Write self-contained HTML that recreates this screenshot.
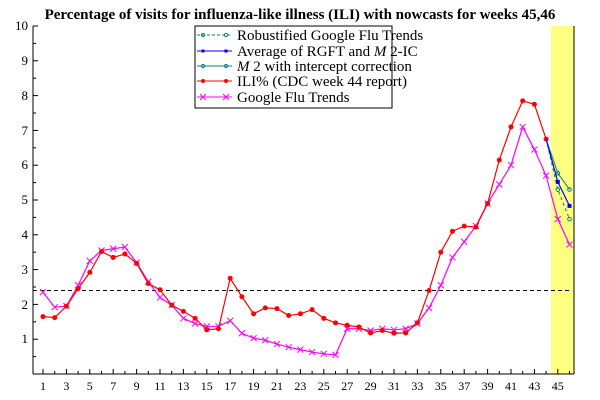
<!DOCTYPE html>
<html><head><meta charset="utf-8"><style>
body{margin:0;background:#fff}
svg{display:block;font-family:"Liberation Serif",serif}
</style></head><body>
<svg id="s" width="600" height="400" xmlns="http://www.w3.org/2000/svg">
<rect x="551" y="26" width="23" height="348" fill="#ffff80"/>
<text x="300" y="19" text-anchor="middle" font-weight="bold" font-size="15">Percentage of visits for influenza-like illness (ILI) with nowcasts for weeks 45,46</text>
<g font-size="13" text-anchor="end">
<text x="28" y="343">1</text><text x="28" y="309">2</text><text x="28" y="274">3</text><text x="28" y="239">4</text><text x="28" y="204">5</text><text x="28" y="169">6</text><text x="28" y="135">7</text><text x="28" y="100">8</text><text x="28" y="65">9</text><text x="28" y="30">10</text>
</g>
<g font-size="12" text-anchor="middle" id="xl">
<text x="43" y="390">1</text><text x="66.4" y="390">3</text><text x="89.8" y="390">5</text><text x="113.2" y="390">7</text><text x="136.6" y="390">9</text><text x="160" y="390">11</text><text x="183.4" y="390">13</text><text x="206.8" y="390">15</text><text x="230.2" y="390">17</text><text x="253.6" y="390">19</text><text x="277" y="390">21</text><text x="300.4" y="390">23</text><text x="323.8" y="390">25</text><text x="347.2" y="390">27</text><text x="370.6" y="390">29</text><text x="394" y="390">31</text><text x="417.4" y="390">33</text><text x="440.8" y="390">35</text><text x="464.2" y="390">37</text><text x="487.6" y="390">39</text><text x="511" y="390">41</text><text x="534.4" y="390">43</text><text x="557.8" y="390">45</text>
</g>
<g id="g"></g>
<rect x="195" y="26" width="197" height="82" fill="#fff" stroke="#000" stroke-width="1"/>
<g font-size="15">
<text x="237" y="40">Robustified Google Flu Trends</text>
<text x="237" y="56">Average of RGFT and <tspan font-style="italic">M</tspan> 2-IC</text>
<text x="237" y="71">
<tspan font-style="italic">M</tspan> 2 with intercept correction</text>
<text x="237" y="86">ILI% (CDC week 44 report)</text>
<text x="237" y="102">Google Flu Trends</text>
</g>
<g id="lg"></g>
</svg>
<script>
const X=w=>43+(w-1)*11.7, Y=v=>374-v*34.8;
const g=document.getElementById('g'), lg=document.getElementById('lg');
let h='';
h+='<line x1="33" y1="26" x2="33" y2="374" stroke="#000"/><line x1="33" y1="374" x2="574" y2="374" stroke="#000"/><line x1="574" y1="26" x2="574" y2="374" stroke="#000"/>';
for(let i=1;i<=20;i++){const y=374-i*17.4;h+=`<line x1="33" y1="${y}" x2="${i%2?36:38}" y2="${y}" stroke="#000"/>`;}
for(let w=1;w<=46;w++){h+=`<line x1="${X(w)}" y1="374" x2="${X(w)}" y2="${w%2?369:371}" stroke="#000"/>`;}
h+=`<line x1="33" y1="${Y(2.4)}" x2="570" y2="${Y(2.4)}" stroke="#000" stroke-dasharray="4,3"/>`;
const ili=[1.65,1.62,1.95,2.45,2.92,3.52,3.35,3.45,3.18,2.6,2.42,1.98,1.8,1.6,1.27,1.3,2.75,2.22,1.73,1.9,1.88,1.68,1.73,1.85,1.6,1.47,1.4,1.35,1.18,1.25,1.17,1.18,1.47,2.4,3.5,4.1,4.25,4.22,4.9,6.15,7.1,7.85,7.75,6.75];
const gft=[2.35,1.92,1.95,2.55,3.25,3.55,3.6,3.65,3.2,2.65,2.2,1.98,1.6,1.45,1.37,1.37,1.53,1.17,1.03,0.97,0.86,0.77,0.7,0.63,0.58,0.55,1.3,1.3,1.25,1.3,1.27,1.3,1.45,1.9,2.55,3.35,3.8,4.25,4.9,5.45,6.0,7.1,6.45,5.7,4.45,3.72];
const pts=(a,s)=>a.map((v,i)=>X(i+s)+','+Y(v)).join(' ');
const cross=(x,y,c)=>`<path d="M${x-3},${y-3}L${x+3},${y+3}M${x-3},${y+3}L${x+3},${y-3}" stroke="${c}"/>`;
h+=`<polyline points="${pts(gft,1)}" fill="none" stroke="#f0f" stroke-width="1.2"/>`;
gft.forEach((v,i)=>h+=cross(X(i+1),Y(v),'#f0f'));
h+=`<polyline points="${pts(ili,1)}" fill="none" stroke="#f00" stroke-width="1.2"/>`;
ili.forEach((v,i)=>h+=`<circle cx="${X(i+1)}" cy="${Y(v)}" r="2.5" fill="#f00"/>`);
h+=`<polyline points="${pts([6.75,5.77,5.3],44)}" fill="none" stroke="#008080"/>`;
[5.77,5.3].forEach((v,i)=>h+=`<circle cx="${X(45+i)}" cy="${Y(v)}" r="1.8" fill="none" stroke="#008080"/>`);
h+=`<polyline points="${pts([6.75,5.3,4.45],44)}" fill="none" stroke="#008080" stroke-dasharray="3,3"/>`;
[5.3,4.45].forEach((v,i)=>h+=`<circle cx="${X(45+i)}" cy="${Y(v)}" r="1.8" fill="none" stroke="#008080"/>`);
h+=`<polyline points="${pts([6.75,5.52,4.83],44)}" fill="none" stroke="#00f" stroke-width="1.2"/>`;
[5.52,4.83].forEach((v,i)=>h+=`<rect x="${X(45+i)-2}" y="${Y(v)-2}" width="4" height="4" fill="#00f"/>`);
g.innerHTML=h;
let l='';
const rows=[[35,'#008080','3,2','o'],[51,'#00f','','s'],[66,'#008080','','o'],[81,'#f00','','c'],[97,'#f0f','','x']];
rows.forEach(([y,c,d,m])=>{l+=`<line x1="197" y1="${y}" x2="232" y2="${y}" stroke="${c}" ${d?'stroke-dasharray="'+d+'"':''}/>`;
[203,226].forEach(x=>{if(m=='o')l+=`<circle cx="${x}" cy="${y}" r="1.6" fill="none" stroke="${c}"/>`;if(m=='s')l+=`<rect x="${x-1.5}" y="${y-1.5}" width="3" height="3" fill="${c}"/>`;if(m=='c')l+=`<circle cx="${x}" cy="${y}" r="2" fill="${c}"/>`;if(m=='x')l+=cross(x,y,c);});});
lg.innerHTML=l;
</script>
</body></html>
